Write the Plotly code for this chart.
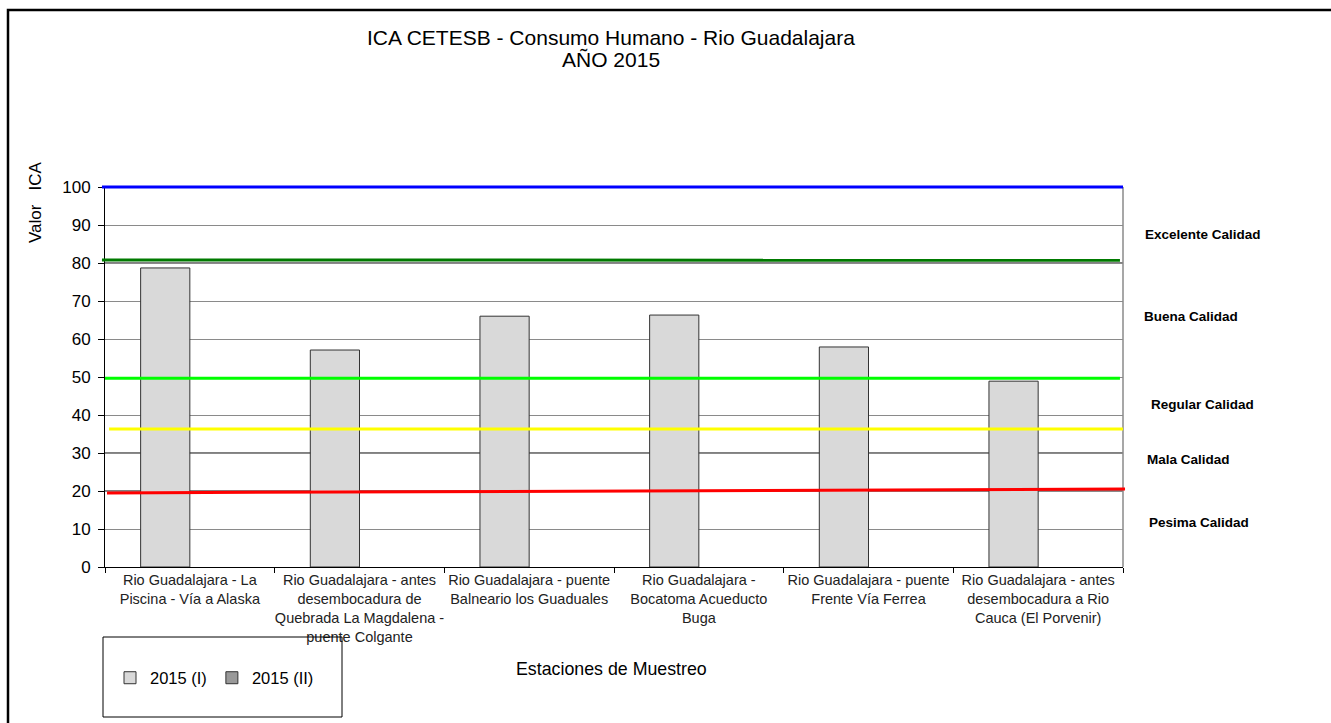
import plotly.graph_objects as go

# Sampling stations (x categories)
estaciones = [
    "Rio Guadalajara - La<br>Piscina - Vía a Alaska",
    "Rio Guadalajara - antes<br>desembocadura de<br>Quebrada La Magdalena -<br>puente Colgante",
    "Rio Guadalajara - puente<br>Balneario los Guaduales",
    "Rio Guadalajara -<br>Bocatoma Acueducto<br>Buga",
    "Rio Guadalajara - puente<br>Frente Vía Ferrea",
    "Rio Guadalajara - antes<br>desembocadura a Rio<br>Cauca (El Porvenir)",
]

# ICA values per campaign
ica_2015_i = [78.7, 57.1, 66.0, 66.3, 57.9, 48.9]
ica_2015_ii = [None, None, None, None, None, None]

# Quality class limits (start value, end value) and colours
limites = [
    (100.0, 100.0, "#0000ff"),
    (80.8, 80.7, "#007a00"),
    (49.7, 49.7, "#00ff00"),
    (36.3, 36.3, "#ffff00"),
    (19.5, 20.5, "#ff0000"),
]
limites_x = [(-0.003, 1.0), (-0.003, 0.997), (0.0, 0.997), (0.004, 1.0), (0.002, 1.002)]

# Quality class labels and their y positions (data units)
clases = ["Excelente Calidad", "Buena Calidad", "Regular Calidad", "Mala Calidad", "Pesima Calidad"]
clases_y = [87.6, 66.0, 42.8, 28.3, 11.8]
clases_x = [1.02, 1.019, 1.026, 1.022, 1.024]

yticks = list(range(0, 101, 10))
y_max = 100

W, H = 1331, 723
L, R, T, B = 105, 1123, 187, 567
pw, ph = R - L, B - T


def px(x):
    return (x - L) / pw


def py(y):
    return (B - y) / ph


fig = go.Figure()
fig.add_trace(go.Bar(
    x=estaciones, y=ica_2015_i, name="2015 (I)",
    marker=dict(color="#d9d9d9", line=dict(color="#333333", width=1)),
))
fig.add_trace(go.Bar(
    x=estaciones, y=ica_2015_ii, name="2015 (II)",
    marker=dict(color="#999999", line=dict(color="#333333", width=1)),
))

shapes = []
# black gridlines drawn over the grey grid at some levels
for g in (80, 30, 20):
    shapes.append(dict(type="line", xref="paper", yref="y", x0=0, x1=1, y0=g, y1=g,
                       line=dict(color="#000000", width=1), layer="below"))
# class limit lines, placed on the y domain so they are not clipped at the plot edge
for (y0, y1, c), (x0, x1) in zip(limites, limites_x):
    shapes.append(dict(type="line", xref="paper", yref="y domain", x0=x0, x1=x1,
                       y0=y0 / y_max, y1=y1 / y_max,
                       line=dict(color=c, width=3)))
# outer frame of the chart
shapes.append(dict(type="rect", xref="paper", yref="paper",
                   x0=px(8), x1=px(1345), y0=py(10), y1=py(740),
                   line=dict(color="#000000", width=2.5)))
# legend frame
shapes.append(dict(type="rect", xref="paper", yref="paper",
                   x0=px(103), x1=px(342), y0=py(637), y1=py(717),
                   line=dict(color="#000000", width=1)))
# grey right border of the plot area
shapes.append(dict(type="line", xref="paper", yref="paper", x0=1, x1=1, y0=0, y1=1,
                   line=dict(color="#8a8a8a", width=1.5), layer="below"))

annotations = []
for txt, yy, xx in zip(clases, clases_y, clases_x):
    annotations.append(dict(text=f"<b>{txt}</b>", xref="paper", yref="y", x=xx, y=yy,
                            xanchor="left", yanchor="middle", showarrow=False,
                            font=dict(size=13.5, color="#000000")))
annotations.append(dict(text="Valor   ICA", xref="paper", yref="paper", x=px(35), y=py(202),
                        textangle=-90, showarrow=False, xanchor="center", yanchor="middle",
                        font=dict(size=17, color="#000000")))
annotations.append(dict(text="Estaciones de Muestreo", xref="paper", yref="paper",
                        x=px(611), y=py(669), showarrow=False, xanchor="center",
                        yanchor="middle", font=dict(size=17.8, color="#000000")))
for line, yy in (("ICA CETESB - Consumo Humano - Rio Guadalajara", 37), ("AÑO 2015", 60)):
    annotations.append(dict(text=line, xref="paper", yref="paper", x=px(611), y=py(yy),
                            showarrow=False, xanchor="center", yanchor="middle",
                            font=dict(size=21, color="#000000")))

fig.update_layout(
    width=W, height=H,
    margin=dict(l=L, r=W - R, t=T, b=H - B, autoexpand=False),
    paper_bgcolor="white", plot_bgcolor="white",
    font=dict(family="Liberation Sans, Arial, sans-serif", color="#000000"),
    barmode="group", bargap=0.42, bargroupgap=0,
    showlegend=True,
    legend=dict(orientation="h", x=px(110), y=py(678), xanchor="left", yanchor="middle",
                font=dict(size=16.5), bgcolor="rgba(0,0,0,0)", itemwidth=30),
    shapes=shapes, annotations=annotations,
)
fig.update_xaxes(
    type="category", showline=True, linecolor="#000000", linewidth=1,
    mirror=False, ticks="outside", tickson="boundaries", ticklen=5,
    tickcolor="#000000", tickfont=dict(size=14.5, color="#222222"),
    tickangle=0, automargin=False,
    showgrid=False, range=[-0.5, 5.5],
)
fig.update_yaxes(
    range=[0, y_max], tickvals=yticks, showline=True, linecolor="#000000", linewidth=1,
    ticks="outside", ticklen=6, tickcolor="#000000", tickfont=dict(size=17),
    ticklabelstandoff=4, automargin=False,
    showgrid=True, gridcolor="#8a8a8a", gridwidth=1, zeroline=False,
)

fig.write_html("out.html")
